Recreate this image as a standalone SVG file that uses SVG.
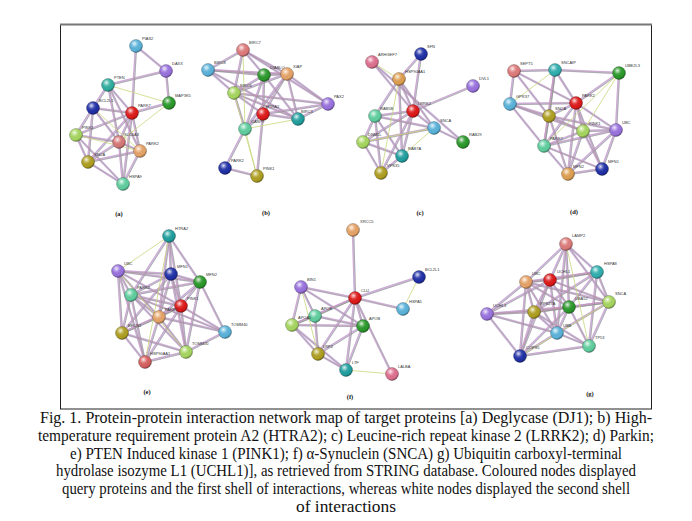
<svg xmlns="http://www.w3.org/2000/svg" xmlns:xlink="http://www.w3.org/1999/xlink" width="692" height="521" viewBox="0 0 692 521">
<defs>
<radialGradient id="sh" cx="0.38" cy="0.32" r="0.7">
<stop offset="0" stop-color="#fff" stop-opacity="0.85"/>
<stop offset="0.35" stop-color="#fff" stop-opacity="0.15"/>
<stop offset="0.75" stop-color="#000" stop-opacity="0"/>
<stop offset="1" stop-color="#000" stop-opacity="0.35"/>
</radialGradient>
<style>
.sb{fill:none;stroke:#b9a4d8;stroke-width:2.4;stroke-opacity:0.75;stroke-linecap:round}
.st1{fill:none;stroke:#7d9460;stroke-width:0.5;stroke-opacity:0.8}
.st2{fill:none;stroke:#d48cb4;stroke-width:0.5;stroke-opacity:0.8}
.wk{fill:none;stroke:#c9d77e;stroke-width:0.8}
.n text{font-family:"Liberation Sans",Arial,sans-serif;font-size:4px;fill:#333}
.ov{fill:url(#sh);stroke:#000;stroke-opacity:0.35;stroke-width:0.6}
.pl{font-family:"Liberation Serif","Times New Roman",serif;font-size:6.5px;font-weight:bold;fill:#111;text-anchor:middle}
.cap{font-family:"Liberation Serif","Times New Roman",serif;font-size:16px;fill:#111;text-anchor:middle}
</style>
</defs>
<rect width="692" height="521" fill="#fff"/>
<rect x="60.5" y="24.5" width="591" height="384.5" fill="#fff" stroke="#222" stroke-width="1"/>
<line x1="60" y1="24.5" x2="652" y2="24.5" stroke="#777" stroke-width="2"/>

<g id="connectors">
<g class="sb"><g id="es">
<!-- a -->
<path d="M136 46L166 71"/><path d="M136 46L132 113"/><path d="M166 71L169 103"/><path d="M166 71L108 85"/>
<path d="M108 85L132 113"/><path d="M108 85L93 108"/><path d="M108 85L119 142"/><path d="M93 108L132 113"/>
<path d="M93 108L76 135"/><path d="M93 108L88 162"/><path d="M93 108L119 142"/><path d="M132 113L169 103"/>
<path d="M132 113L119 142"/><path d="M132 113L140 151"/><path d="M132 113L123 184"/><path d="M132 113L88 162"/>
<path d="M132 113L76 135"/><path d="M76 135L119 142"/><path d="M76 135L88 162"/><path d="M76 135L123 184"/>
<path d="M119 142L140 151"/><path d="M119 142L88 162"/><path d="M119 142L123 184"/><path d="M140 151L88 162"/>
<path d="M140 151L123 184"/><path d="M88 162L123 184"/><path d="M108 85L140 151"/>
<!-- b -->
<path d="M243 50L208 70"/><path d="M243 50L264 75"/><path d="M243 50L287 74"/><path d="M243 50L234 93"/>
<path d="M243 50L328 104"/><path d="M208 70L264 75"/><path d="M208 70L287 74"/><path d="M208 70L234 93"/>
<path d="M208 70L298 119"/><path d="M264 75L287 74"/><path d="M264 75L234 93"/><path d="M264 75L263 114"/>
<path d="M264 75L298 119"/><path d="M264 75L245 129"/><path d="M287 74L234 93"/><path d="M287 74L263 114"/>
<path d="M287 74L298 119"/><path d="M287 74L245 129"/><path d="M287 74L328 104"/><path d="M234 93L263 114"/>
<path d="M234 93L298 119"/><path d="M234 93L245 129"/><path d="M263 114L298 119"/><path d="M263 114L328 104"/>
<path d="M263 114L245 129"/><path d="M298 119L328 104"/><path d="M263 114L257 176"/><path d="M245 129L225 168"/>
<path d="M225 168L257 176"/><path d="M234 93L328 104"/>
<!-- c -->
<path d="M372 62L413 111"/><path d="M372 62L463 142"/><path d="M421 54L399 79"/><path d="M421 54L413 111"/>
<path d="M399 79L413 111"/><path d="M399 79L375 116"/><path d="M399 79L402 156"/><path d="M399 79L434 128"/>
<path d="M473 86L413 111"/><path d="M413 111L375 116"/><path d="M413 111L434 128"/><path d="M413 111L363 142"/>
<path d="M413 111L402 156"/><path d="M413 111L381 173"/><path d="M375 116L434 128"/><path d="M375 116L363 142"/>
<path d="M375 116L402 156"/><path d="M434 128L363 142"/><path d="M434 128L463 142"/><path d="M363 142L402 156"/>
<path d="M363 142L381 173"/><path d="M402 156L381 173"/><path d="M375 116L381 173"/>
<!-- d -->
<path d="M514 71L555 70"/><path d="M555 70L619 73"/><path d="M514 71L576 103"/><path d="M514 71L510 104"/>
<path d="M514 71L549 116"/><path d="M555 70L576 103"/><path d="M555 70L549 116"/><path d="M555 70L544 146"/>
<path d="M619 73L576 103"/><path d="M619 73L616 130"/><path d="M510 104L576 103"/><path d="M510 104L549 116"/>
<path d="M510 104L544 146"/><path d="M510 104L583 131"/><path d="M576 103L549 116"/><path d="M576 103L583 131"/>
<path d="M576 103L616 130"/><path d="M576 103L544 146"/><path d="M576 103L568 174"/><path d="M576 103L602 169"/>
<path d="M549 116L583 131"/><path d="M549 116L544 146"/><path d="M549 116L616 130"/><path d="M549 116L568 174"/>
<path d="M583 131L616 130"/><path d="M583 131L544 146"/><path d="M583 131L568 174"/><path d="M583 131L602 169"/>
<path d="M616 130L544 146"/><path d="M616 130L602 169"/><path d="M616 130L568 174"/><path d="M544 146L568 174"/>
<path d="M544 146L602 169"/><path d="M602 169L568 174"/>
<!-- e -->
<path d="M169 236L171 274"/><path d="M169 236L200 282"/><path d="M169 236L181 306"/><path d="M169 236L131 295"/>
<path d="M169 236L159 317"/><path d="M118 271L171 274"/><path d="M118 271L200 282"/><path d="M118 271L131 295"/>
<path d="M118 271L181 306"/><path d="M118 271L122 333"/><path d="M118 271L145 362"/><path d="M118 271L159 317"/>
<path d="M171 274L200 282"/><path d="M171 274L131 295"/><path d="M171 274L181 306"/><path d="M171 274L159 317"/>
<path d="M171 274L186 352"/><path d="M171 274L122 333"/><path d="M200 282L131 295"/><path d="M200 282L181 306"/>
<path d="M200 282L225 332"/><path d="M200 282L159 317"/><path d="M200 282L186 352"/><path d="M131 295L181 306"/>
<path d="M131 295L159 317"/><path d="M131 295L122 333"/><path d="M131 295L145 362"/><path d="M131 295L186 352"/>
<path d="M181 306L159 317"/><path d="M181 306L225 332"/><path d="M181 306L186 352"/><path d="M181 306L145 362"/>
<path d="M181 306L122 333"/><path d="M159 317L122 333"/><path d="M159 317L145 362"/><path d="M159 317L186 352"/>
<path d="M159 317L225 332"/><path d="M122 333L145 362"/><path d="M122 333L186 352"/><path d="M145 362L186 352"/>
<path d="M186 352L225 332"/><path d="M131 295L225 332"/>
<!-- f -->
<path d="M353 230L355 298"/><path d="M419 277L355 298"/><path d="M301 287L355 298"/><path d="M301 287L315 316"/>
<path d="M301 287L292 325"/><path d="M301 287L363 326"/><path d="M355 298L403 309"/><path d="M355 298L315 316"/>
<path d="M355 298L292 325"/><path d="M355 298L363 326"/><path d="M355 298L318 354"/><path d="M355 298L346 370"/>
<path d="M355 298L392 374"/><path d="M315 316L292 325"/><path d="M315 316L363 326"/><path d="M315 316L318 354"/>
<path d="M292 325L363 326"/><path d="M292 325L318 354"/><path d="M292 325L346 370"/><path d="M363 326L318 354"/>
<path d="M363 326L346 370"/><path d="M318 354L346 370"/>
<!-- g -->
<path d="M566 244L597 272"/><path d="M566 244L526 282"/><path d="M566 244L550 280"/><path d="M566 244L569 307"/>
<path d="M566 244L557 333"/><path d="M566 244L609 302"/><path d="M597 272L526 282"/><path d="M597 272L550 280"/>
<path d="M597 272L569 307"/><path d="M597 272L609 302"/><path d="M597 272L534 312"/><path d="M597 272L589 346"/>
<path d="M526 282L550 280"/><path d="M526 282L487 314"/><path d="M526 282L534 312"/><path d="M526 282L569 307"/>
<path d="M526 282L557 333"/><path d="M526 282L520 356"/><path d="M526 282L609 302"/><path d="M550 280L534 312"/>
<path d="M550 280L569 307"/><path d="M550 280L557 333"/><path d="M550 280L609 302"/><path d="M550 280L520 356"/>
<path d="M550 280L487 314"/><path d="M609 302L534 312"/><path d="M609 302L569 307"/><path d="M609 302L557 333"/>
<path d="M609 302L589 346"/><path d="M487 314L534 312"/><path d="M487 314L569 307"/><path d="M487 314L557 333"/>
<path d="M487 314L520 356"/><path d="M534 312L569 307"/><path d="M534 312L557 333"/><path d="M534 312L520 356"/>
<path d="M534 312L589 346"/><path d="M569 307L557 333"/><path d="M569 307L520 356"/><path d="M569 307L589 346"/>
<path d="M557 333L520 356"/><path d="M557 333L589 346"/><path d="M520 356L589 346"/>
</g></g>
<use xlink:href="#es" href="#es" class="st1" transform="translate(0.7,0.6)"/>
<use xlink:href="#es" href="#es" class="st2" transform="translate(-0.7,-0.5)"/>
<g class="wk" id="ew">
<path d="M108 85L169 103"/><path d="M93 108L140 151"/><path d="M76 135L140 151"/><path d="M169 103L119 142"/>
<path d="M243 50L245 129"/><path d="M234 93L257 176"/><path d="M245 129L298 119"/><path d="M245 129L257 176"/>
<path d="M372 62L399 79"/><path d="M402 156L434 128"/><path d="M399 79L381 173"/><path d="M363 142L434 128"/>
<path d="M619 73L583 131"/><path d="M555 70L510 104"/><path d="M619 73L544 146"/>
<path d="M169 236L118 271"/><path d="M118 271L186 352"/><path d="M169 236L145 362"/>
<path d="M419 277L403 309"/><path d="M346 370L392 374"/><path d="M301 287L318 354"/>
<path d="M566 244L589 346"/><path d="M609 302L520 356"/>
</g>
</g>

<g id="nodes">
<!-- panel a -->
<g id="a-PIAS2" class="n"><circle cx="136" cy="46" r="6.5" fill="#5ab4dc"/><circle cx="136" cy="46" r="6.5" class="ov"/><text x="142" y="40">PIAS2</text></g>
<g id="a-DAXX" class="n"><circle cx="166" cy="71" r="6.5" fill="#9a72e0"/><circle cx="166" cy="71" r="6.5" class="ov"/><text x="172" y="65">DAXX</text></g>
<g id="a-PTEN" class="n"><circle cx="108" cy="85" r="6.5" fill="#30b0a0"/><circle cx="108" cy="85" r="6.5" class="ov"/><text x="114" y="79">PTEN</text></g>
<g id="a-MAP3K5" class="n"><circle cx="169" cy="103" r="6.5" fill="#2a9a2a"/><circle cx="169" cy="103" r="6.5" class="ov"/><text x="175" y="97">MAP3K5</text></g>
<g id="a-BCL2L1" class="n"><circle cx="93" cy="108" r="6.5" fill="#2030a8"/><circle cx="93" cy="108" r="6.5" class="ov"/><text x="99" y="102">BCL2L1</text></g>
<g id="a-PARK7" class="n"><circle cx="132" cy="113" r="6.5" fill="#e01818"/><circle cx="132" cy="113" r="6.5" class="ov"/><text x="138" y="107">PARK7</text></g>
<g id="a-PINK1" class="n"><circle cx="76" cy="135" r="6.5" fill="#a8d860"/><circle cx="76" cy="135" r="6.5" class="ov"/><text x="82" y="129">PINK1</text></g>
<g id="a-SLC6A3" class="n"><circle cx="119" cy="142" r="6.5" fill="#d87878"/><circle cx="119" cy="142" r="6.5" class="ov"/><text x="124" y="136">SLC6A3</text></g>
<g id="a-PARK2" class="n"><circle cx="140" cy="151" r="6.5" fill="#e8a468"/><circle cx="140" cy="151" r="6.5" class="ov"/><text x="146" y="145">PARK2</text></g>
<g id="a-SNCA" class="n"><circle cx="88" cy="162" r="6.5" fill="#b0a020"/><circle cx="88" cy="162" r="6.5" class="ov"/><text x="94" y="156">SNCA</text></g>
<g id="a-HSPA9" class="n"><circle cx="123" cy="184" r="6.5" fill="#60d0a0"/><circle cx="123" cy="184" r="6.5" class="ov"/><text x="129" y="178">HSPA9</text></g>
<!-- panel b -->
<g id="b-BIRC7" class="n"><circle cx="243" cy="50" r="6.5" fill="#e07b7b"/><circle cx="243" cy="50" r="6.5" class="ov"/><text x="249" y="44">BIRC7</text></g>
<g id="b-BIRC8" class="n"><circle cx="208" cy="70" r="6.5" fill="#5ab4dc"/><circle cx="208" cy="70" r="6.5" class="ov"/><text x="214" y="64">BIRC8</text></g>
<g id="b-DIABLO" class="n"><circle cx="264" cy="75" r="6.5" fill="#2a9a2a"/><circle cx="264" cy="75" r="6.5" class="ov"/><text x="270" y="69">DIABLO</text></g>
<g id="b-XIAP" class="n"><circle cx="287" cy="74" r="6.5" fill="#e8a468"/><circle cx="287" cy="74" r="6.5" class="ov"/><text x="293" y="68">XIAP</text></g>
<g id="b-BIRC6" class="n"><circle cx="234" cy="93" r="6.5" fill="#a8d860"/><circle cx="234" cy="93" r="6.5" class="ov"/><text x="240" y="87">BIRC6</text></g>
<g id="b-PAX2" class="n"><circle cx="328" cy="104" r="6.5" fill="#9a72e0"/><circle cx="328" cy="104" r="6.5" class="ov"/><text x="334" y="98">PAX2</text></g>
<g id="b-HTRA2" class="n"><circle cx="263" cy="114" r="6.5" fill="#e01818"/><circle cx="263" cy="114" r="6.5" class="ov"/><text x="266" y="108">HTRA2</text></g>
<g id="b-BIRC3" class="n"><circle cx="298" cy="119" r="6.5" fill="#20a0a0"/><circle cx="298" cy="119" r="6.5" class="ov"/><text x="301" y="113">BIRC3</text></g>
<g id="b-CASP9" class="n"><circle cx="245" cy="129" r="6.5" fill="#60d0a0"/><circle cx="245" cy="129" r="6.5" class="ov"/><text x="251" y="123">CASP9</text></g>
<g id="b-PARK2" class="n"><circle cx="225" cy="168" r="6.5" fill="#2030a8"/><circle cx="225" cy="168" r="6.5" class="ov"/><text x="231" y="162">PARK2</text></g>
<g id="b-PINK1" class="n"><circle cx="257" cy="176" r="6.5" fill="#b0a020"/><circle cx="257" cy="176" r="6.5" class="ov"/><text x="263" y="170">PINK1</text></g>
<!-- panel c -->
<g id="c-ARHGEF7" class="n"><circle cx="372" cy="62" r="6.5" fill="#e07090"/><circle cx="372" cy="62" r="6.5" class="ov"/><text x="378" y="56">ARHGEF7</text></g>
<g id="c-SFN" class="n"><circle cx="421" cy="54" r="6.5" fill="#2030a8"/><circle cx="421" cy="54" r="6.5" class="ov"/><text x="427" y="48">SFN</text></g>
<g id="c-HSP90AA1" class="n"><circle cx="399" cy="79" r="6.5" fill="#e0a050"/><circle cx="399" cy="79" r="6.5" class="ov"/><text x="405" y="73">HSP90AA1</text></g>
<g id="c-DVL1" class="n"><circle cx="473" cy="86" r="6.5" fill="#9a72e0"/><circle cx="473" cy="86" r="6.5" class="ov"/><text x="479" y="80">DVL1</text></g>
<g id="c-LRRK2" class="n"><circle cx="413" cy="111" r="6.5" fill="#e01818"/><circle cx="413" cy="111" r="6.5" class="ov"/><text x="418" y="105">LRRK2</text></g>
<g id="c-RAB5B" class="n"><circle cx="375" cy="116" r="6.5" fill="#60d0a0"/><circle cx="375" cy="116" r="6.5" class="ov"/><text x="380" y="110">RAB5B</text></g>
<g id="c-SNCA" class="n"><circle cx="434" cy="128" r="6.5" fill="#5ab4dc"/><circle cx="434" cy="128" r="6.5" class="ov"/><text x="440" y="122">SNCA</text></g>
<g id="c-DNM1L" class="n"><circle cx="363" cy="142" r="6.5" fill="#a8d860"/><circle cx="363" cy="142" r="6.5" class="ov"/><text x="368" y="136">DNM1L</text></g>
<g id="c-RAB29" class="n"><circle cx="463" cy="142" r="6.5" fill="#2a9a2a"/><circle cx="463" cy="142" r="6.5" class="ov"/><text x="469" y="136">RAB29</text></g>
<g id="c-RAB7A" class="n"><circle cx="402" cy="156" r="6.5" fill="#20a0a0"/><circle cx="402" cy="156" r="6.5" class="ov"/><text x="408" y="150">RAB7A</text></g>
<g id="c-VPS35" class="n"><circle cx="381" cy="173" r="6.5" fill="#b0a020"/><circle cx="381" cy="173" r="6.5" class="ov"/><text x="387" y="167">VPS35</text></g>
<!-- panel d -->
<g id="d-SEPT5" class="n"><circle cx="514" cy="71" r="6.5" fill="#e07b7b"/><circle cx="514" cy="71" r="6.5" class="ov"/><text x="520" y="65">SEPT5</text></g>
<g id="d-SNCAIP" class="n"><circle cx="555" cy="70" r="6.5" fill="#30b0b0"/><circle cx="555" cy="70" r="6.5" class="ov"/><text x="561" y="64">SNCAIP</text></g>
<g id="d-UBE2L3" class="n"><circle cx="619" cy="73" r="6.5" fill="#2a9a2a"/><circle cx="619" cy="73" r="6.5" class="ov"/><text x="625" y="67">UBE2L3</text></g>
<g id="d-GPR37" class="n"><circle cx="510" cy="104" r="6.5" fill="#5ab4dc"/><circle cx="510" cy="104" r="6.5" class="ov"/><text x="516" y="98">GPR37</text></g>
<g id="d-PARK2" class="n"><circle cx="576" cy="103" r="6.5" fill="#e01818"/><circle cx="576" cy="103" r="6.5" class="ov"/><text x="582" y="97">PARK2</text></g>
<g id="d-SNCA" class="n"><circle cx="549" cy="116" r="6.5" fill="#b0a020"/><circle cx="549" cy="116" r="6.5" class="ov"/><text x="555" y="110">SNCA</text></g>
<g id="d-PINK1" class="n"><circle cx="583" cy="131" r="6.5" fill="#a8d860"/><circle cx="583" cy="131" r="6.5" class="ov"/><text x="589" y="125">PINK1</text></g>
<g id="d-UBC" class="n"><circle cx="616" cy="130" r="6.5" fill="#9a72e0"/><circle cx="616" cy="130" r="6.5" class="ov"/><text x="622" y="124">UBC</text></g>
<g id="d-PARK7" class="n"><circle cx="544" cy="146" r="6.5" fill="#60d0a0"/><circle cx="544" cy="146" r="6.5" class="ov"/><text x="550" y="140">PARK7</text></g>
<g id="d-MFN2" class="n"><circle cx="568" cy="174" r="6.5" fill="#e0a050"/><circle cx="568" cy="174" r="6.5" class="ov"/><text x="573" y="168">MFN2</text></g>
<g id="d-MFN1" class="n"><circle cx="602" cy="169" r="6.5" fill="#2030a8"/><circle cx="602" cy="169" r="6.5" class="ov"/><text x="608" y="163">MFN1</text></g>
<!-- panel e -->
<g id="e-HTRA2" class="n"><circle cx="169" cy="236" r="6.5" fill="#20a0a0"/><circle cx="169" cy="236" r="6.5" class="ov"/><text x="175" y="230">HTRA2</text></g>
<g id="e-UBC" class="n"><circle cx="118" cy="271" r="6.5" fill="#9a72e0"/><circle cx="118" cy="271" r="6.5" class="ov"/><text x="124" y="265">UBC</text></g>
<g id="e-MFN1" class="n"><circle cx="171" cy="274" r="6.5" fill="#2030a8"/><circle cx="171" cy="274" r="6.5" class="ov"/><text x="177" y="268">MFN1</text></g>
<g id="e-MFN2" class="n"><circle cx="200" cy="282" r="6.5" fill="#2a9a2a"/><circle cx="200" cy="282" r="6.5" class="ov"/><text x="206" y="276">MFN2</text></g>
<g id="e-PARK2" class="n"><circle cx="131" cy="295" r="6.5" fill="#60d0a0"/><circle cx="131" cy="295" r="6.5" class="ov"/><text x="137" y="289">PARK2</text></g>
<g id="e-PINK1" class="n"><circle cx="181" cy="306" r="6.5" fill="#e01818"/><circle cx="181" cy="306" r="6.5" class="ov"/><text x="187" y="300">PINK1</text></g>
<g id="e-PARK7" class="n"><circle cx="159" cy="317" r="6.5" fill="#e8a468"/><circle cx="159" cy="317" r="6.5" class="ov"/><text x="165" y="311">PARK7</text></g>
<g id="e-BECN1" class="n"><circle cx="122" cy="333" r="6.5" fill="#b0a020"/><circle cx="122" cy="333" r="6.5" class="ov"/><text x="128" y="327">BECN1</text></g>
<g id="e-TOMM40" class="n"><circle cx="225" cy="332" r="6.5" fill="#5ab4dc"/><circle cx="225" cy="332" r="6.5" class="ov"/><text x="231" y="326">TOMM40</text></g>
<g id="e-TOMM20" class="n"><circle cx="186" cy="352" r="6.5" fill="#a8d860"/><circle cx="186" cy="352" r="6.5" class="ov"/><text x="192" y="345">TOMM20</text></g>
<g id="e-HSP90AA1" class="n"><circle cx="145" cy="362" r="6.5" fill="#d86060"/><circle cx="145" cy="362" r="6.5" class="ov"/><text x="150" y="355">HSP90AA1</text></g>
<!-- panel f -->
<g id="f-XRCC5" class="n"><circle cx="353" cy="230" r="6.5" fill="#e8a468"/><circle cx="353" cy="230" r="6.5" class="ov"/><text x="360" y="223">XRCC5</text></g>
<g id="f-BCL2L1" class="n"><circle cx="419" cy="277" r="6.5" fill="#2030a8"/><circle cx="419" cy="277" r="6.5" class="ov"/><text x="425" y="271">BCL2L1</text></g>
<g id="f-BIN1" class="n"><circle cx="301" cy="287" r="6.5" fill="#9a72e0"/><circle cx="301" cy="287" r="6.5" class="ov"/><text x="307" y="281">BIN1</text></g>
<g id="f-CLU" class="n"><circle cx="355" cy="298" r="6.5" fill="#e01818"/><circle cx="355" cy="298" r="6.5" class="ov"/><text x="361" y="292">CLU</text></g>
<g id="f-HSPA5" class="n"><circle cx="403" cy="309" r="6.5" fill="#5ab4dc"/><circle cx="403" cy="309" r="6.5" class="ov"/><text x="409" y="303">HSPA5</text></g>
<g id="f-APOE" class="n"><circle cx="315" cy="316" r="6.5" fill="#60d0a0"/><circle cx="315" cy="316" r="6.5" class="ov"/><text x="321" y="310">APOE</text></g>
<g id="f-APOA1" class="n"><circle cx="292" cy="325" r="6.5" fill="#a8d860"/><circle cx="292" cy="325" r="6.5" class="ov"/><text x="298" y="319">APOA1</text></g>
<g id="f-APOB" class="n"><circle cx="363" cy="326" r="6.5" fill="#2a9a2a"/><circle cx="363" cy="326" r="6.5" class="ov"/><text x="369" y="320">APOB</text></g>
<g id="f-LRP2" class="n"><circle cx="318" cy="354" r="6.5" fill="#b0a020"/><circle cx="318" cy="354" r="6.5" class="ov"/><text x="323" y="348">LRP2</text></g>
<g id="f-LTF" class="n"><circle cx="346" cy="370" r="6.5" fill="#20a0a0"/><circle cx="346" cy="370" r="6.5" class="ov"/><text x="352" y="364">LTF</text></g>
<g id="f-LALBA" class="n"><circle cx="392" cy="374" r="6.5" fill="#e07090"/><circle cx="392" cy="374" r="6.5" class="ov"/><text x="398" y="368">LALBA</text></g>
<!-- panel g -->
<g id="g-LAMP2" class="n"><circle cx="566" cy="244" r="6.5" fill="#e07b7b"/><circle cx="566" cy="244" r="6.5" class="ov"/><text x="572" y="237">LAMP2</text></g>
<g id="g-HSPA8" class="n"><circle cx="597" cy="272" r="6.5" fill="#30b0b0"/><circle cx="597" cy="272" r="6.5" class="ov"/><text x="604" y="265">HSPA8</text></g>
<g id="g-UBC" class="n"><circle cx="526" cy="282" r="6.5" fill="#e8a468"/><circle cx="526" cy="282" r="6.5" class="ov"/><text x="532" y="275">UBC</text></g>
<g id="g-UCHL1" class="n"><circle cx="550" cy="280" r="6.5" fill="#e01818"/><circle cx="550" cy="280" r="6.5" class="ov"/><text x="557" y="273">UCHL1</text></g>
<g id="g-SNCA" class="n"><circle cx="609" cy="302" r="6.5" fill="#a8d860"/><circle cx="609" cy="302" r="6.5" class="ov"/><text x="615" y="295">SNCA</text></g>
<g id="g-UCHL3" class="n"><circle cx="487" cy="314" r="6.5" fill="#9a72e0"/><circle cx="487" cy="314" r="6.5" class="ov"/><text x="493" y="307">UCHL3</text></g>
<g id="g-RPS27A" class="n"><circle cx="534" cy="312" r="6.5" fill="#b0a020"/><circle cx="534" cy="312" r="6.5" class="ov"/><text x="540" y="305">RPS27A</text></g>
<g id="g-UBA52" class="n"><circle cx="569" cy="307" r="6.5" fill="#2a9a2a"/><circle cx="569" cy="307" r="6.5" class="ov"/><text x="575" y="300">UBA52</text></g>
<g id="g-UBB" class="n"><circle cx="557" cy="333" r="6.5" fill="#5ab4dc"/><circle cx="557" cy="333" r="6.5" class="ov"/><text x="563" y="327">UBB</text></g>
<g id="g-TP53" class="n"><circle cx="589" cy="346" r="6.5" fill="#60d0a0"/><circle cx="589" cy="346" r="6.5" class="ov"/><text x="595" y="339">TP53</text></g>
<g id="g-COPS5" class="n"><circle cx="520" cy="356" r="6.5" fill="#2030a8"/><circle cx="520" cy="356" r="6.5" class="ov"/><text x="526" y="349">COPS5</text></g>
</g>

<g id="panel-labels">
<text class="pl" x="119" y="216">(a)</text>
<text class="pl" x="266" y="215">(b)</text>
<text class="pl" x="420" y="215">(c)</text>
<text class="pl" x="574" y="214">(d)</text>
<text class="pl" x="147" y="394">(e)</text>
<text class="pl" x="350" y="399">(f)</text>
<text class="pl" x="590" y="396">(g)</text>
</g>

<g id="caption">
<text class="cap" x="346" y="423" textLength="612" lengthAdjust="spacingAndGlyphs">Fig. 1. Protein-protein interaction network map of target proteins [a) Deglycase (DJ1); b) High-</text>
<text class="cap" x="346" y="441" textLength="616" lengthAdjust="spacingAndGlyphs">temperature requirement protein A2 (HTRA2); c) Leucine-rich repeat kinase 2 (LRRK2); d) Parkin;</text>
<text class="cap" x="346" y="458.5" textLength="552" lengthAdjust="spacingAndGlyphs">e) PTEN Induced kinase 1 (PINK1); f) α-Synuclein (SNCA) g) Ubiquitin carboxyl-terminal</text>
<text class="cap" x="346" y="476" textLength="580" lengthAdjust="spacingAndGlyphs">hydrolase isozyme L1 (UCHL1)], as retrieved from STRING database. Coloured nodes displayed</text>
<text class="cap" x="346" y="494" textLength="568" lengthAdjust="spacingAndGlyphs">query proteins and the first shell of interactions, whereas white nodes displayed the second shell</text>
<text class="cap" x="346" y="512" textLength="100" lengthAdjust="spacingAndGlyphs">of interactions</text>
</g>
</svg>
